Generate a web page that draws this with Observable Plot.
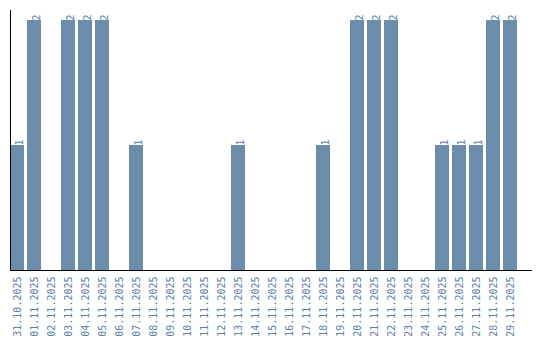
<!DOCTYPE html>
<html><head><meta charset="utf-8">
<script src="https://cdn.jsdelivr.net/npm/d3@7"></script>
<script src="https://cdn.jsdelivr.net/npm/@observablehq/plot@0.6"></script>
<style>body{margin:0;background:#fff}</style>
</head><body><div id="chart"></div>
<script>
const dates = ["31.10.2025","01.11.2025","02.11.2025","03.11.2025","04.11.2025","05.11.2025","06.11.2025","07.11.2025","08.11.2025","09.11.2025","10.11.2025","11.11.2025","12.11.2025","13.11.2025","14.11.2025","15.11.2025","16.11.2025","17.11.2025","18.11.2025","19.11.2025","20.11.2025","21.11.2025","22.11.2025","23.11.2025","24.11.2025","25.11.2025","26.11.2025","27.11.2025","28.11.2025","29.11.2025"];
const counts = [1,2,0,2,2,2,0,1,0,0,0,0,0,1,0,0,0,0,1,0,2,2,2,0,0,1,1,1,2,2];
const data = dates.map((d,i)=>({date:d, value:counts[i]}));
const nonZero = data.filter(d=>d.value>0);
const barColor = "#6b8cab";
const textColor = "#5b80aa";
const chart = Plot.plot({
  width: 540, height: 340,
  marginTop: 10, marginBottom: 70, marginLeft: 10, marginRight: 9,
  style: {fontFamily: "DejaVu Sans Mono", fontSize: "10px", background: "#fff"},
  x: {domain: dates, paddingInner: 0.1765, paddingOuter: 0.41, align: 0, label: null},
  y: {domain: [0, 2.08], axis: null},
  marks: [
    Plot.barY(data.filter(d=>d.value>0), {x:"date", y:"value", fill: barColor}),
    Plot.text(nonZero, {x:"date", y:"value", text: d=>String(d.value), rotate:-90, textAnchor:"start", dx: 2, fill: textColor, fontSize: 10}),
    Plot.axisX({tickSize: 0, tickPadding: 6, tickRotate: -90, fill: textColor, fontSize: 10, label: null}),
    Plot.frame({anchor: "left", stroke: "#000"}),
    Plot.frame({anchor: "bottom", stroke: "#000"})
  ]
});
document.getElementById("chart").append(chart);
</script>
</body></html>
